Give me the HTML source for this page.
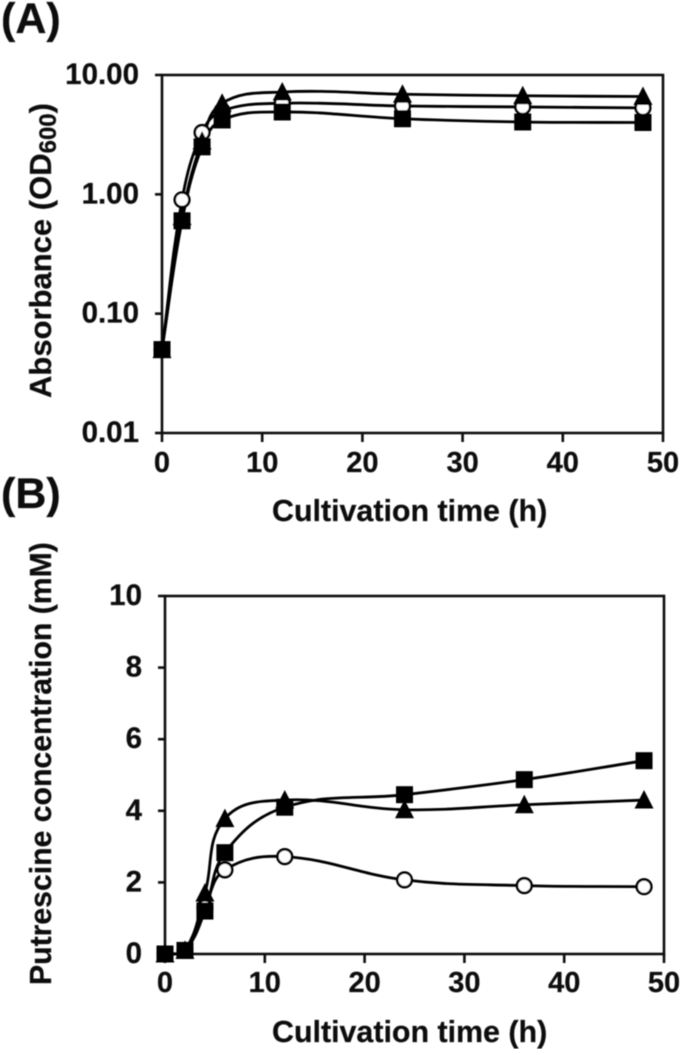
<!DOCTYPE html>
<html lang="en">
<head>
<meta charset="utf-8">
<title>Absorbance and putrescine concentration over cultivation time</title>
<style>
html,body{margin:0;padding:0;background:#fff;}
svg{display:block;}
text{font-family:"Liberation Sans",sans-serif;font-weight:bold;fill:#111;stroke:#111;stroke-width:0.25;}
</style>
</head>
<body>
<svg id="figure" xmlns="http://www.w3.org/2000/svg" width="685" height="1055" viewBox="0 0 685 1055">
  <defs><filter id="soft" x="0" y="0" width="100%" height="100%"><feGaussianBlur stdDeviation="0.45"/></filter></defs>
  <g id="root" filter="url(#soft)">
    <text x="1" y="33" font-size="43">(A)</text>
    <text x="1" y="508" font-size="43">(B)</text>
    <text transform="translate(51,398) rotate(-90)" font-size="31">Absorbance (OD<tspan font-size="24" dy="5">600</tspan><tspan dy="-5">)</tspan></text>
    <text transform="translate(51,985) rotate(-90)" font-size="30.2">Putrescine concentration (mM)</text>
    <text x="272" y="521" font-size="30.4">Cultivation time (h)</text>
    <text x="272" y="1042" font-size="30.4">Cultivation time (h)</text>
    <g id="panelA"></g>
    <g id="panelB"></g>
  </g>
</svg>
<script>
const hours = [0, 2, 4, 6, 12, 24, 36, 48];
const xTickLabels = ['0', '10', '20', '30', '40', '50'];
const xTickValues = [0, 10, 20, 30, 40, 50];

const panelAYTickValues = [10, 1, 0.1, 0.01];
const panelAYTickLabels = ['10.00', '1.00', '0.10', '0.01'];
const odTriangle = [0.05, 0.65, 2.8, 5.8, 7.2, 6.9, 6.7, 6.6];
const odCircle = [0.05, 0.9, 3.3, 5.0, 5.8, 5.5, 5.4, 5.3];
const odSquare = [0.05, 0.6, 2.5, 4.2, 4.9, 4.3, 4.04, 4.0];

const panelBYTickValues = [0, 2, 4, 6, 8, 10];
const panelBYTickLabels = ['0', '2', '4', '6', '8', '10'];
const putTriangle = [0, 0.1, 1.7, 3.78, 4.3, 4.03, 4.17, 4.3];
const putCircle = [0, 0.1, 1.3, 2.35, 2.72, 2.07, 1.91, 1.88];
const putSquare = [0, 0.1, 1.2, 2.83, 4.1, 4.45, 4.87, 5.4];

const NS = 'http://www.w3.org/2000/svg';

function make(parent, tag, attrs) {
  const el = document.createElementNS(NS, tag);
  for (const k in attrs) el.setAttribute(k, attrs[k]);
  parent.appendChild(el);
  return el;
}

function smoothPath(pts) {
  let d = 'M' + pts[0][0] + ' ' + pts[0][1];
  const tangent = i => {
    const a = pts[Math.max(i - 1, 0)], b = pts[Math.min(i + 1, pts.length - 1)];
    const dx = b[0] - a[0], dy = b[1] - a[1], len = Math.hypot(dx, dy) || 1;
    return [dx / len, dy / len];
  };
  for (let i = 0; i < pts.length - 1; i++) {
    const p = pts[i], q = pts[i + 1];
    const dist = Math.hypot(q[0] - p[0], q[1] - p[1]);
    const t0 = tangent(i), t1 = tangent(i + 1);
    const c1 = [p[0] + t0[0] * dist * 0.38, p[1] + t0[1] * dist * 0.38];
    const c2 = [q[0] - t1[0] * dist * 0.38, q[1] - t1[1] * dist * 0.38];
    d += ' C' + c1[0] + ' ' + c1[1] + ' ' + c2[0] + ' ' + c2[1] + ' ' + q[0] + ' ' + q[1];
  }
  return d;
}

function drawMarker(g, kind, x, y) {
  if (kind === 'square') {
    make(g, 'rect', {x: x - 8.5, y: y - 8.5, width: 17, height: 17, fill: '#000'});
  } else if (kind === 'triangle') {
    make(g, 'polygon', {points: (x) + ',' + (y - 10) + ' ' + (x + 9.5) + ',' + (y + 8.5) + ' ' + (x - 9.5) + ',' + (y + 8.5), fill: '#000'});
  } else {
    make(g, 'circle', {cx: x, cy: y, r: 7.3, fill: '#fff', stroke: '#000', 'stroke-width': 2.6});
  }
}

function drawPanel(root, cfg) {
  const frame = make(root, 'rect', {x: cfg.left, y: cfg.top, width: cfg.right - cfg.left, height: cfg.bottom - cfg.top, fill: 'none', stroke: '#111', 'stroke-width': 2.6});
  
  

  xTickValues.forEach((v, i) => {
    const x = cfg.xScale(v);
    const tick = make(root, 'line', {x1: x, x2: x, y1: cfg.bottom, y2: cfg.bottom + 9, stroke: '#111', 'stroke-width': 2.6});
    
    
    const label = make(root, 'text', {x: x, y: cfg.xLabelBase, 'text-anchor': 'middle', 'font-size': 29});
    label.textContent = xTickLabels[i];
    
    
  });

  cfg.yTicks.forEach((v, i) => {
    const y = cfg.yScale(v);
    const tick = make(root, 'line', {x1: cfg.left - 7, x2: cfg.left, y1: y, y2: y, stroke: '#111', 'stroke-width': 2.6});
    
    
    const label = make(root, 'text', {x: cfg.yLabelRight, y: y + 9, 'text-anchor': 'end', 'font-size': 29.5});
    label.textContent = cfg.yLabels[i];
    
    
  });

  cfg.series.forEach(s => {
    const pts = hours.map((h, i) => [cfg.xScale(h), cfg.yScale(s.values[i])]);
    const line = make(root, 'path', {d: smoothPath(pts), fill: 'none', stroke: '#000', 'stroke-width': 2.8});
    
    
  });
  cfg.series.forEach(s => {
    const g = make(root, 'g', {});
    
    
    hours.forEach((h, i) => drawMarker(g, s.kind, cfg.xScale(h), cfg.yScale(s.values[i])));
  });
}

drawPanel(document.getElementById('panelA'), {
  name: 'panel-a', left: 162, right: 663, top: 75, bottom: 433,
  xLabelBase: 472, yLabelRight: 139,
  xScale: v => 162 + v * 10.02,
  yScale: v => 433 - (Math.log10(v) + 2) * (358 / 3),
  yTicks: panelAYTickValues, yLabels: panelAYTickLabels,
  series: [
    {kind: 'circle', values: odCircle},
    {kind: 'triangle', values: odTriangle},
    {kind: 'square', values: odSquare}
  ]
});

drawPanel(document.getElementById('panelB'), {
  name: 'panel-b', left: 165, right: 664, top: 596, bottom: 954,
  xLabelBase: 992, yLabelRight: 142,
  xScale: v => 165 + v * 9.98,
  yScale: v => 954 - v * 35.8,
  yTicks: panelBYTickValues, yLabels: panelBYTickLabels,
  series: [
    {kind: 'circle', values: putCircle},
    {kind: 'triangle', values: putTriangle},
    {kind: 'square', values: putSquare}
  ]
});
</script>
</body>
</html>
